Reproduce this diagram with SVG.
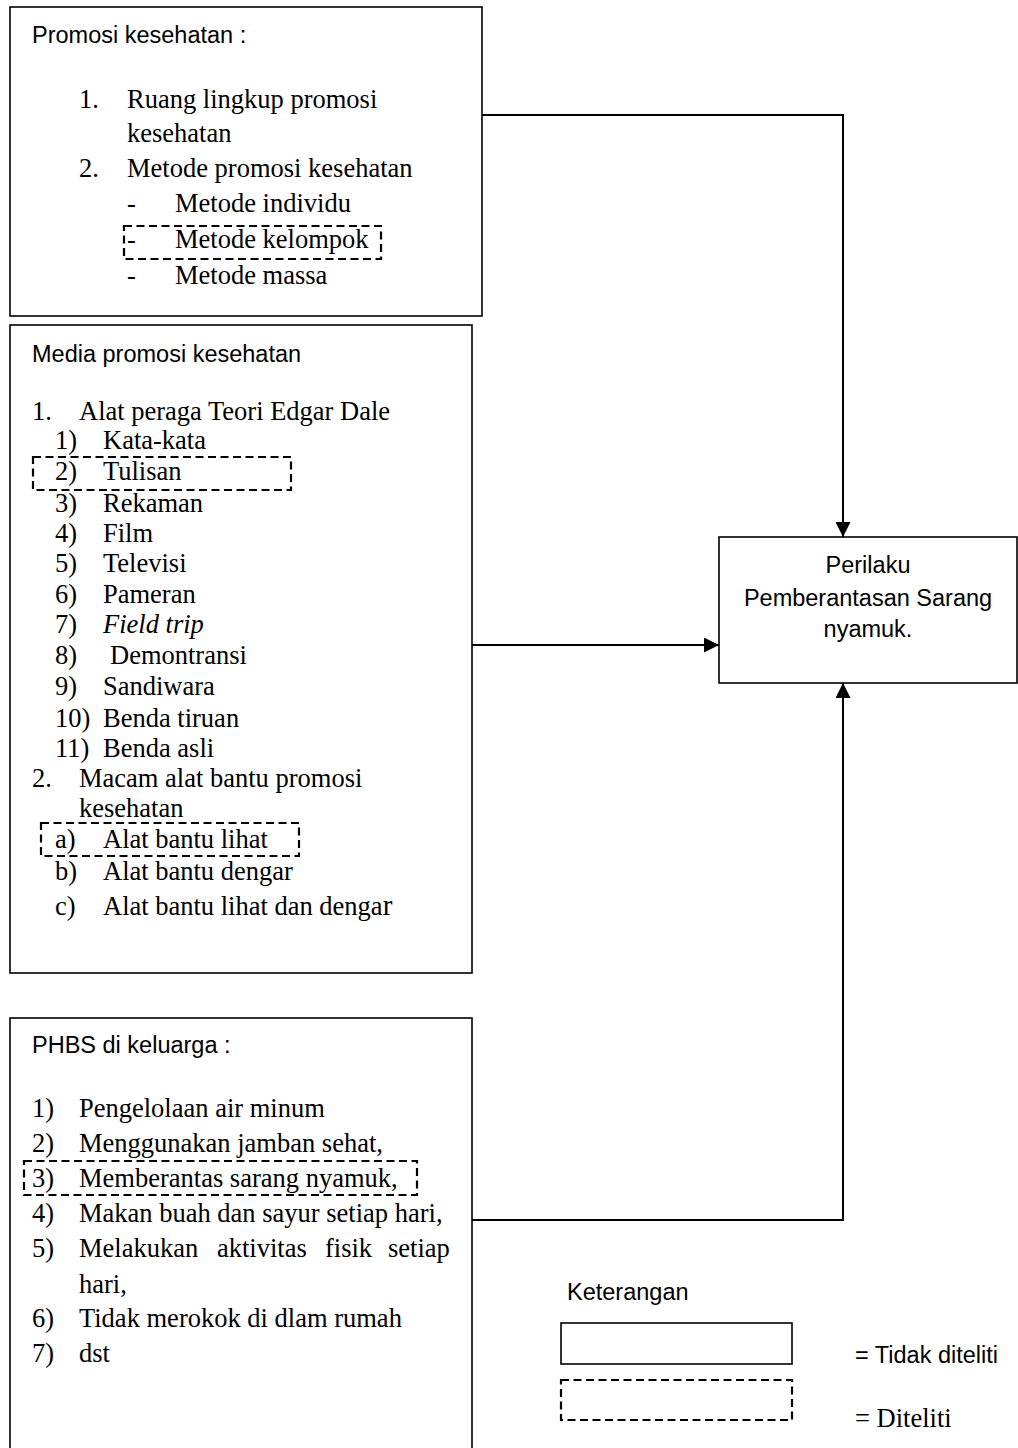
<svg xmlns="http://www.w3.org/2000/svg" width="1018" height="1448" viewBox="0 0 1018 1448">
<style>
.box{fill:#fff;stroke:#000;stroke-width:1.6}
.dash{fill:none;stroke:#000;stroke-width:2.2;stroke-dasharray:8 4.5}
.conn{fill:none;stroke:#000;stroke-width:2}
.sans{font-family:"Liberation Sans",Arial,sans-serif;font-size:23.5px;fill:#000}
.serif{font-family:"Liberation Serif","Times New Roman",serif;font-size:26.5px;fill:#000}
</style>
<defs>
<marker id="arr" viewBox="0 0 10 10" refX="10" refY="5" markerUnits="userSpaceOnUse" markerWidth="15" markerHeight="15" orient="auto">
<path d="M0,0 L10,5 L0,10 z" fill="#000"/>
</marker>
</defs>
<rect width="1018" height="1448" fill="#fff"/>

<g id="promosi">
<rect class="box" x="10" y="7" width="472" height="309"/>
<text class="sans" x="32" y="43">Promosi kesehatan :</text>
<text class="serif" x="79" y="108">1.</text>
<text class="serif" x="127" y="108">Ruang lingkup promosi</text>
<text class="serif" x="127" y="142">kesehatan</text>
<text class="serif" x="79" y="177">2.</text>
<text class="serif" x="127" y="177">Metode promosi kesehatan</text>
<text class="serif" x="127" y="212">-</text>
<text class="serif" x="175" y="212">Metode individu</text>
<text class="serif" x="127" y="248">-</text>
<text class="serif" x="175" y="248">Metode kelompok</text>
<text class="serif" x="127" y="284">-</text>
<text class="serif" x="175" y="284">Metode massa</text>
<rect class="dash" x="124" y="226" width="257" height="33"/>
</g>

<g id="media">
<rect class="box" x="10" y="325" width="462" height="648"/>
<text class="sans" x="32" y="362">Media promosi kesehatan</text>
<text class="serif" x="32" y="420">1.</text>
<text class="serif" x="79" y="420">Alat peraga Teori Edgar Dale</text>
<text class="serif" x="55" y="449">1)</text><text class="serif" x="103" y="449">Kata-kata</text>
<text class="serif" x="55" y="480">2)</text><text class="serif" x="103" y="480">Tulisan</text>
<text class="serif" x="55" y="512">3)</text><text class="serif" x="103" y="512">Rekaman</text>
<text class="serif" x="55" y="542">4)</text><text class="serif" x="103" y="542">Film</text>
<text class="serif" x="55" y="572">5)</text><text class="serif" x="103" y="572">Televisi</text>
<text class="serif" x="55" y="603">6)</text><text class="serif" x="103" y="603">Pameran</text>
<text class="serif" x="55" y="633">7)</text><text class="serif" x="103" y="633" font-style="italic">Field trip</text>
<text class="serif" x="55" y="664">8)</text><text class="serif" x="110" y="664">Demontransi</text>
<text class="serif" x="55" y="695">9)</text><text class="serif" x="103" y="695">Sandiwara</text>
<text class="serif" x="55" y="727">10)</text><text class="serif" x="103" y="727">Benda tiruan</text>
<text class="serif" x="55" y="757">11)</text><text class="serif" x="103" y="757">Benda asli</text>
<text class="serif" x="32" y="787">2.</text>
<text class="serif" x="79" y="787">Macam alat bantu promosi</text>
<text class="serif" x="79" y="817">kesehatan</text>
<text class="serif" x="55" y="848">a)</text><text class="serif" x="103" y="848">Alat bantu lihat</text>
<text class="serif" x="55" y="880">b)</text><text class="serif" x="103" y="880">Alat bantu dengar</text>
<text class="serif" x="55" y="915" font-size="29">c)</text><text class="serif" x="103" y="915">Alat bantu lihat dan denga<tspan font-size="29">r</tspan></text>
<rect class="dash" x="33" y="457" width="258" height="33"/>
<rect class="dash" x="41" y="823" width="258" height="33"/>
</g>

<g id="phbs">
<rect class="box" x="10" y="1018" width="462" height="450"/>
<text class="sans" x="32" y="1053">PHBS di keluarga :</text>
<text class="serif" x="32" y="1117">1)</text><text class="serif" x="79" y="1117">Pengelolaan air minum</text>
<text class="serif" x="32" y="1152">2)</text><text class="serif" x="79" y="1152">Menggunakan jamban sehat,</text>
<text class="serif" x="32" y="1187">3)</text><text class="serif" x="79" y="1187">Memberantas sarang nyamuk,</text>
<text class="serif" x="32" y="1222">4)</text><text class="serif" x="79" y="1222">Makan buah dan sayur setiap hari,</text>
<text class="serif" x="32" y="1257">5)</text><text class="serif" y="1257"><tspan x="79">Melakukan</tspan><tspan x="217">aktivitas</tspan><tspan x="325">fisik</tspan><tspan x="388">setiap</tspan></text>
<text class="serif" x="79" y="1293">hari,</text>
<text class="serif" x="32" y="1327">6)</text><text class="serif" x="79" y="1327">Tidak merokok di dlam rumah</text>
<text class="serif" x="32" y="1362">7)</text><text class="serif" x="79" y="1362">dst</text>
<rect class="dash" x="24" y="1161" width="393" height="34"/>
</g>

<g id="perilaku">
<rect class="box" x="719" y="537" width="298" height="146"/>
<text class="sans" x="868" y="573" text-anchor="middle">Perilaku</text>
<text class="sans" x="868" y="606" text-anchor="middle">Pemberantasan Sarang</text>
<text class="sans" x="868" y="637" text-anchor="middle">nyamuk.</text>
</g>

<g id="connectors">
<polyline class="conn" points="482,115 843,115 843,537" marker-end="url(#arr)"/>
<line class="conn" x1="472" y1="645" x2="719" y2="645" marker-end="url(#arr)"/>
<polyline class="conn" points="472,1220 843,1220 843,683" marker-end="url(#arr)"/>
</g>

<g id="legend">
<text class="sans" x="567" y="1300">Keterangan</text>
<rect class="box" x="561" y="1323" width="231" height="41"/>
<rect class="dash" x="561" y="1380" width="231" height="40"/>
<text class="sans" x="855" y="1363">= Tidak diteliti</text>
<text class="serif" x="855" y="1427">= Diteliti</text>
</g>
</svg>
